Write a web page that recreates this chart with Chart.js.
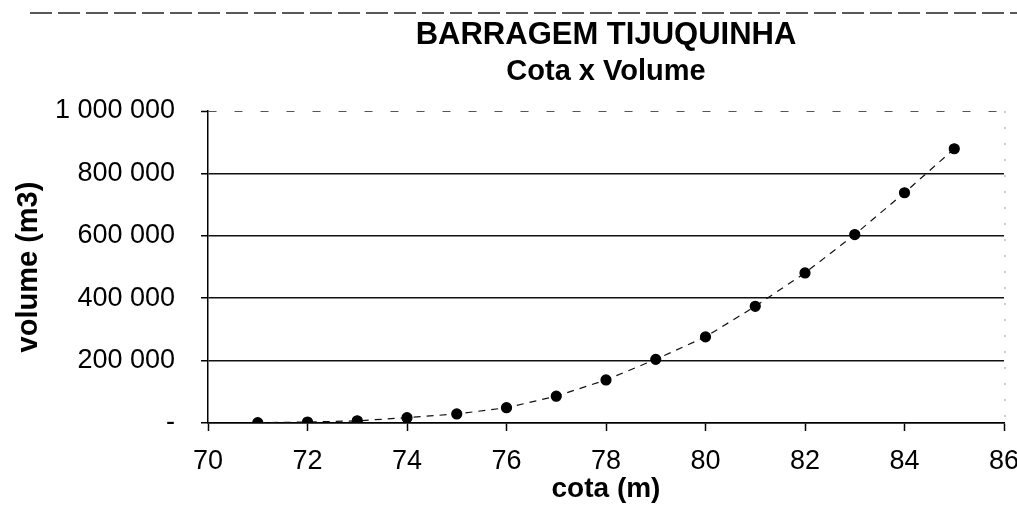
<!DOCTYPE html>
<html>
<head>
<meta charset="utf-8">
<script src="https://cdn.jsdelivr.net/npm/chart.js@4/dist/chart.umd.min.js"></script>
<style>
    body { margin: 0; background: #fff; }
    canvas { display: block; }
</style>
</head>
<body>
<canvas id="cota-volume-chart" width="1017" height="510"></canvas>
<script>
// cota (m) x volume (m3)
const cotas = [71, 72, 73, 74, 75, 76, 77, 78, 79, 80, 81, 82, 83, 84, 85];
const volumes = [1000, 3000, 7000, 17000, 29000, 49000, 86000, 138000, 204000, 276000, 374000, 481000, 604000, 738000, 879000];
const yTicks = [0, 200000, 400000, 600000, 800000, 1000000];
const xTicks = [70, 72, 74, 76, 78, 80, 82, 84, 86];

const fontFamily = '"Liberation Sans", Arial, sans-serif';

function formatVolume(value) {
    if (value === 0) {
        return '-';
    }
    return String(value).replace(/\B(?=(\d{3})+(?!\d))/g, ' ');
}

// dashed frame edge at the top of the scan and the faint right border
const frameLines = {
    id: 'frameLines',
    beforeDraw(chart) {
        const ctx = chart.ctx;
        const area = chart.chartArea;
        ctx.save();
        ctx.strokeStyle = '#222';
        ctx.lineWidth = 1.5;
        ctx.setLineDash([22, 6]);
        ctx.beginPath();
        ctx.moveTo(30, 13);
        ctx.lineTo(chart.width, 13);
        ctx.stroke();
        ctx.strokeStyle = '#999';
        ctx.lineWidth = 1;
        ctx.setLineDash([2, 14]);
        ctx.beginPath();
        ctx.moveTo(area.right + 1, area.top);
        ctx.lineTo(area.right + 1, area.bottom);
        ctx.stroke();
        ctx.restore();
    }
};

const ctx = document.getElementById('cota-volume-chart').getContext('2d');
new Chart(ctx, {
    type: 'scatter',
    data: {
        datasets: [{
            label: 'Cota x Volume',
            data: cotas.map((c, i) => ({ x: c, y: volumes[i] })),
            showLine: true,
            borderColor: '#111',
            borderWidth: 1.2,
            borderDash: [7, 6],
            backgroundColor: '#000',
            pointBackgroundColor: '#000',
            pointBorderColor: '#000',
            pointRadius: 5,
            tension: 0
        }]
    },
    options: {
        responsive: false,
        animation: false,
        layout: {
            padding: { left: 0, right: 0, top: 0, bottom: 0 }
        },
        plugins: {
            legend: { display: false },
            tooltip: { enabled: false },
            title: {
                display: true,
                text: 'BARRAGEM TIJUQUINHA',
                fullSize: false,
                color: '#000',
                font: { family: fontFamily, size: 31, weight: 'bold' },
                padding: { top: 17, bottom: 0 }
            },
            subtitle: {
                display: true,
                text: 'Cota x Volume',
                fullSize: false,
                color: '#000',
                font: { family: fontFamily, size: 29, weight: 'bold' },
                padding: { top: 0, bottom: 22 }
            }
        },
        scales: {
            x: {
                type: 'linear',
                min: 70,
                max: 86,
                afterBuildTicks: function(scale) {
                    scale.ticks = xTicks.map(v => ({ value: v }));
                },
                afterFit: function(scale) {
                    scale.height = 87;
                    scale.paddingLeft = 0;
                    scale.paddingRight = 13;
                },
                ticks: {
                    color: '#000',
                    padding: 14,
                    font: { family: fontFamily, size: 27 }
                },
                grid: {
                    drawOnChartArea: false,
                    drawTicks: true,
                    tickLength: 8,
                    tickColor: '#000',
                    tickWidth: 1.5
                },
                border: { color: '#000', width: 1.5 },
                title: {
                    display: true,
                    text: 'cota (m)',
                    color: '#000',
                    font: { family: fontFamily, size: 28, weight: 'bold' },
                    padding: { top: 0, bottom: 4 }
                }
            },
            y: {
                type: 'linear',
                min: 0,
                max: 1000000,
                afterBuildTicks: function(scale) {
                    scale.ticks = yTicks.map(v => ({ value: v }));
                },
                afterFit: function(scale) {
                    scale.width = 208;
                },
                ticks: {
                    color: '#000',
                    padding: 26,
                    font: { family: fontFamily, size: 27 },
                    callback: function(value) {
                        return formatVolume(value);
                    }
                },
                grid: {
                    color: function(context) {
                        return context.tick && context.tick.value === 1000000 ? '#555' : '#111';
                    },
                    lineWidth: function(context) {
                        return context.tick && context.tick.value === 1000000 ? 1 : 1.5;
                    },
                    tickLength: 7,
                    tickColor: '#000',
                    tickWidth: 1.5
                },
                border: {
                    color: '#000',
                    width: 1.5,
                    dash: function(context) {
                        return context.tick && context.tick.value === 1000000 ? [8, 18] : [];
                    }
                },
                title: {
                    display: true,
                    text: 'volume (m3)',
                    color: '#000',
                    font: { family: fontFamily, size: 29, weight: 'bold' },
                    padding: { top: 12, bottom: 0 }
                }
            }
        }
    },
    plugins: [frameLines]
});
</script>
</body>
</html>
